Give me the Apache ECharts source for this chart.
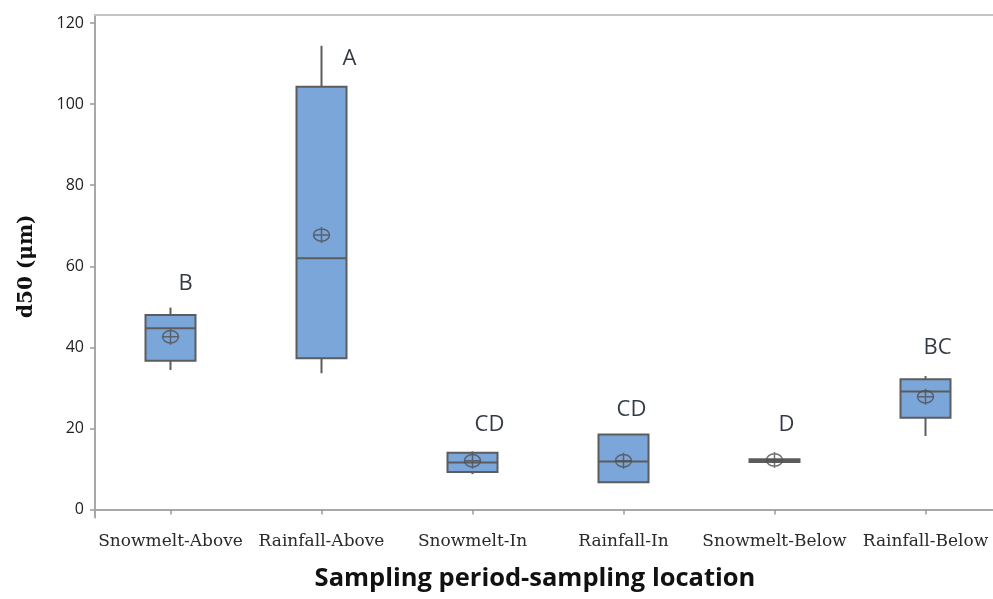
<!DOCTYPE html>
<html><head><meta charset="utf-8">
<script src="https://cdn.jsdelivr.net/npm/echarts@6/dist/echarts.min.js"></script>
<style>html,body{margin:0;padding:0;background:#fff;overflow:hidden}#c{width:1003px;height:599px}</style>
</head><body><div id="c"></div>
<script>
const categories = ['Snowmelt-Above','Rainfall-Above','Snowmelt-In','Rainfall-In','Snowmelt-Below','Rainfall-Below'];
// [whisker low, Q1, median, Q3, whisker high]
const boxMin    = [34.4, 33.6,  8.7,  6.7, 11.7, 18.1];
const boxQ1     = [36.7, 37.3,  9.2,  6.7, 11.7, 22.6];
const boxMedian = [44.7, 62.0, 11.6, 11.8, 12.0, 29.1];
const boxQ3     = [48.0, 104.3, 14.0, 18.5, 12.4, 32.1];
const boxMax    = [49.8, 114.4, 14.3, 18.5, 12.4, 32.9];
const means     = [42.6, 67.7, 12.0, 12.0, 12.2, 27.8];
const groupLetters = ['B','A','CD','CD','D','BC'];
const letterY   = [55.6, 111.3, 20.8, 24.5, 20.8, 40.0];
const yTicks    = [0, 20, 40, 60, 80, 100, 120];

const letterDx = [15, 28, 17, 8, 12, 12];

const chart = echarts.init(document.getElementById('c'), null, {renderer:'canvas'});
const meanPath = 'path://M10,0 A10,10 0 1,1 9.99,0 Z M10,-3 L10,23 M0,10 L20,10';
const BOXW = 50;

function renderBox(params, api) {
  const ci = api.value(0);
  const pMin = api.coord([ci, api.value(1)]);
  const pQ1 = api.coord([ci, api.value(2)]);
  const pMed = api.coord([ci, api.value(3)]);
  const pQ3 = api.coord([ci, api.value(4)]);
  const pMax = api.coord([ci, api.value(5)]);
  const x = pMed[0];
  const stroke = {stroke: '#5c5c5c', lineWidth: 2};
  const h = Math.max(pQ1[1] - pQ3[1], 0.5);
  return {
    type: 'group',
    children: [
      {type: 'line', shape: {x1: x, y1: pMax[1], x2: x, y2: pQ3[1]}, style: Object.assign({}, stroke)},
      {type: 'line', shape: {x1: x, y1: pQ1[1], x2: x, y2: pMin[1]}, style: Object.assign({}, stroke)},
      {type: 'rect', shape: {x: x - BOXW / 2, y: pQ3[1], width: BOXW, height: h},
        style: {fill: '#7ba6da', stroke: '#5c5c5c', lineWidth: 2}},
      {type: 'line', shape: {x1: x - BOXW / 2, y1: pMed[1], x2: x + BOXW / 2, y2: pMed[1]}, style: Object.assign({}, stroke)}
    ]
  };
}

chart.setOption({
  animation: false,
  grid: {left: 95, right: 2, top: 15, bottom: 81.5, show: false, containLabel: false},
  xAxis: [{
    type: 'category', data: categories, boundaryGap: true,
    axisLine: {show: true, lineStyle: {color: '#a8a8a8', width: 2}},
    axisTick: {show: true, alignWithLabel: true, length: 5, lineStyle: {color: '#999', width: 1.5}},
    axisLabel: {interval: 0, margin: 16, fontFamily: 'DejaVu Serif', fontSize: 17, color: '#2a2a2a'},
    name: 'Sampling period-sampling location', nameLocation: 'middle', nameGap: 48,
    nameTextStyle: {fontFamily: 'Open Sans', fontWeight: 'bold', fontSize: 25.5, color: '#111', padding: [0, 26, 0, 0]}
  }, {
    type: 'category', data: categories, position: 'top',
    axisLine: {show: true, lineStyle: {color: '#c4c4c4', width: 2}},
    axisTick: {show: false}, axisLabel: {show: false}
  }],
  yAxis: {
    type: 'value', min: -2, max: 122,
    axisLine: {show: true, lineStyle: {color: '#a8a8a8', width: 2}},
    axisTick: {show: true, length: 5, customValues: yTicks, lineStyle: {color: '#999', width: 1.5}},
    axisLabel: {margin: 11, customValues: yTicks, fontFamily: 'Open Sans', fontSize: 16, color: '#222'},
    splitLine: {show: false},
    name: 'd50 (μm)', nameLocation: 'middle', nameGap: 58, nameRotate: 90,
    nameTextStyle: {fontFamily: 'DejaVu Serif', fontWeight: 'bold', fontSize: 20, color: '#111'}
  },
  series: [
    {
      type: 'custom', renderItem: renderBox,
      data: categories.map((c, i) => [i, boxMin[i], boxQ1[i], boxMedian[i], boxQ3[i], boxMax[i]]),
      encode: {x: 0, y: [1, 2, 3, 4, 5]},
      z: 2
    },
    {
      type: 'scatter', symbol: meanPath, symbolSize: 16,
      data: categories.map((c, i) => [c, means[i]]),
      itemStyle: {color: 'rgba(0,0,0,0)', borderColor: '#505050', borderWidth: 1.5},
      z: 5
    },
    {
      type: 'scatter', symbolSize: 0,
      data: categories.map((c, i) => ({
        value: [c, letterY[i]],
        label: {show: true, formatter: groupLetters[i], position: 'inside', offset: [letterDx[i], 0]}
      })),
      label: {fontFamily: 'Open Sans', fontSize: 22, color: '#000814'},
      z: 6
    }
  ]
});
</script></body></html>
